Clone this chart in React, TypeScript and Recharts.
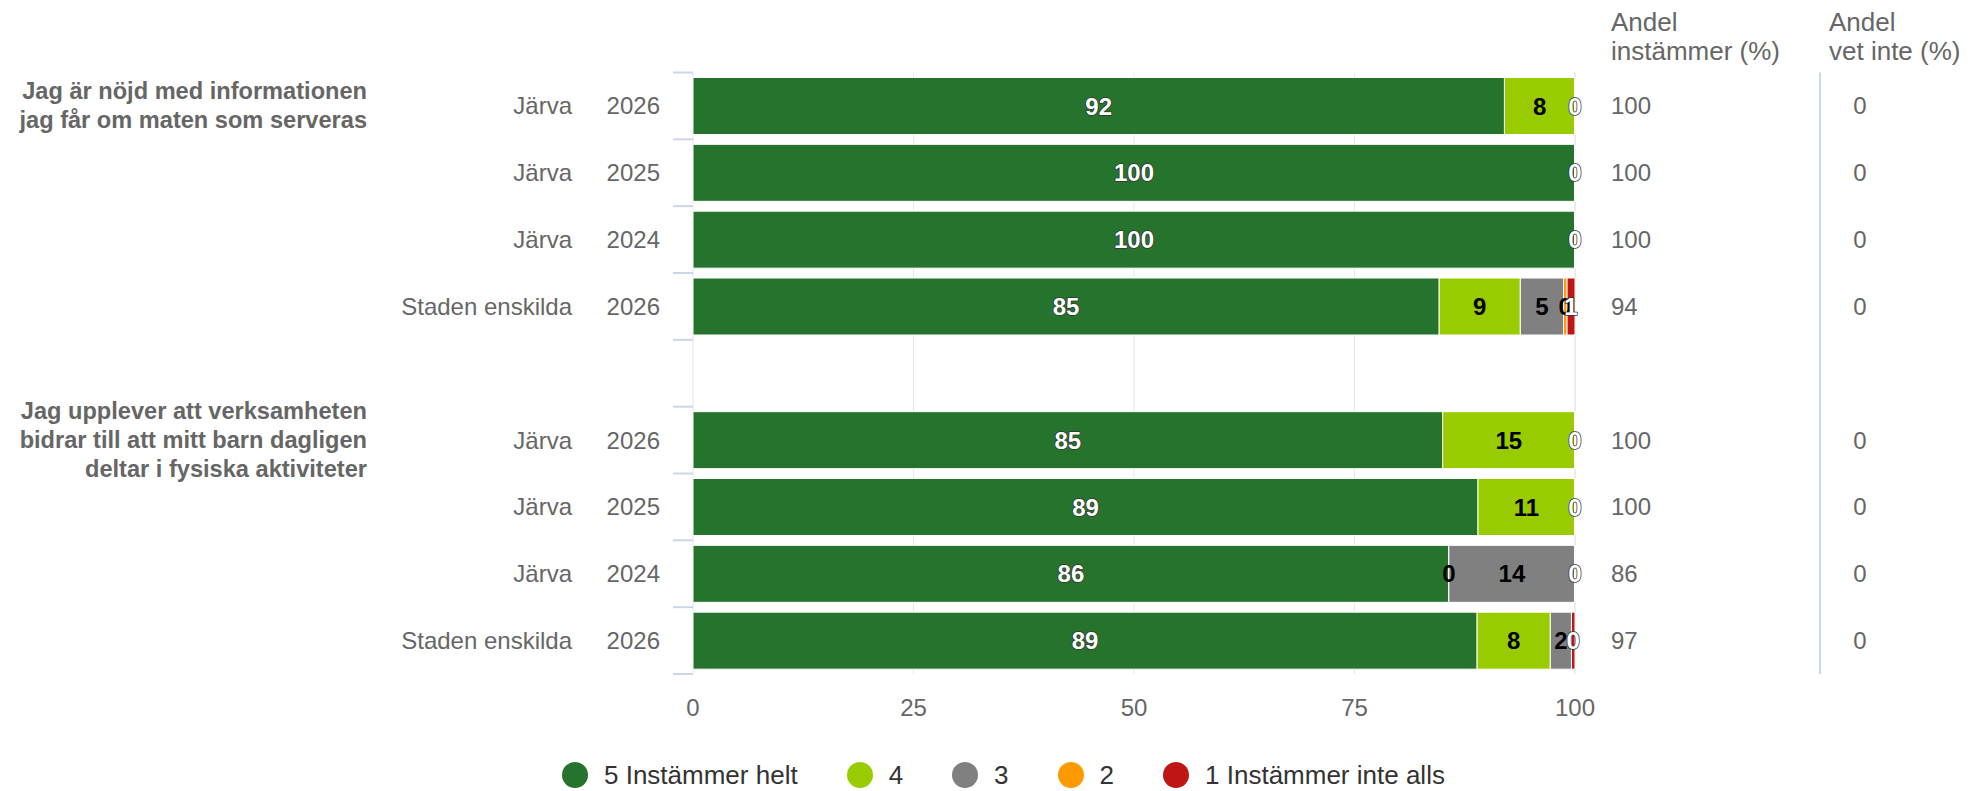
import React from "react";
import {
  BarChart,
  Bar,
  XAxis,
  YAxis,
  CartesianGrid,
  LabelList,
  Legend,
  Customized,
} from "recharts";

// rows of the chart, one empty row separates the two questions
const regions = ["Järva", "Järva", "Järva", "Staden enskilda", "", "Järva", "Järva", "Järva", "Staden enskilda"];
const years = ["2026", "2025", "2024", "2026", "", "2026", "2025", "2024", "2026"];
const questions = [
  ["Jag är nöjd med informationen", "jag får om maten som serveras"],
  ["Jag upplever att verksamheten", "bidrar till att mitt barn dagligen", "deltar i fysiska aktiviteter"],
];
const questionRows = [0, 5];

// shares in percent per answer
const helt = [92, 100, 100, 84.6, null, 85, 89, 85.7, 88.9];
const fyra = [8, 0, 0, 9.2, null, 15, 11, 0, 8.3];
const tre = [0, 0, 0, 4.9, null, 0, 0, 14.3, 2.4];
const tva = [0, 0, 0, 0.4, null, 0, 0, 0, 0];
const ett = [0, 0, 0, 0.9, null, 0, 0, 0, 0.4];
const andelInstammer = [100, 100, 100, 94, null, 100, 100, 86, 97];
const andelVetInte = [0, 0, 0, 0, null, 0, 0, 0, 0];
const xTicks = [0, 25, 50, 75, 100];

const series = [
  { key: "s5", name: "5 Instämmer helt", values: helt, color: "#25732c", text: "#fff" },
  { key: "s4", name: "4", values: fyra, color: "#99cc00", text: "#000" },
  { key: "s3", name: "3", values: tre, color: "#808080", text: "#000" },
  { key: "s2", name: "2", values: tva, color: "#ff9900", text: "#000" },
  { key: "s1", name: "1 Instämmer inte alls", values: ett, color: "#bf1515", text: "#fff" },
];

const data = regions.map((r, i) => {
  const row: any = { key: `r${i}`, region: r, year: years[i] };
  series.forEach((s) => (row[s.key] = s.values[i]));
  return row;
});

const CHART_W = 1956;
const CHART_H = 783;
const PLOT_LEFT = 685;
const PLOT_RIGHT = 1567;
const PLOT_TOP = 64.5;
const PLOT_BOTTOM = 666;
const BAND = (PLOT_BOTTOM - PLOT_TOP) / regions.length;
const LEGEND_Y = 767;
const GRAY = "#666666";
const AXIS_LINE = "#ccd6eb";

function RowTick(props: any) {
  const { y, payload } = props;
  const i = Number(String(payload.value).slice(1));
  const qi = questionRows.indexOf(i);
  const lines = qi >= 0 ? questions[qi] : [];
  return (
    <g>
      <line x1={PLOT_LEFT - 20} x2={PLOT_LEFT} y1={y - BAND / 2} y2={y - BAND / 2} stroke={AXIS_LINE} strokeWidth={2} />
      {i === regions.length - 1 && (
        <line x1={PLOT_LEFT - 20} x2={PLOT_LEFT} y1={y + BAND / 2} y2={y + BAND / 2} stroke={AXIS_LINE} strokeWidth={2} />
      )}
      {lines.map((l, k) => (
        <text
          key={k}
          x={359}
          y={y + (k - (lines.length - 1) / 2) * 29}
          textAnchor="end"
          dominantBaseline="central"
          fontSize={23.6}
          fontWeight="bold"
          fill={GRAY}
        >
          {l}
        </text>
      ))}
      {regions[i] && (
        <>
          <text x={564} y={y} textAnchor="end" dominantBaseline="central" fontSize={24} fill={GRAY}>
            {regions[i]}
          </text>
          <text x={652} y={y} textAnchor="end" dominantBaseline="central" fontSize={24} fill={GRAY}>
            {years[i]}
          </text>
          <text x={1603} y={y} dominantBaseline="central" fontSize={24} fill={GRAY}>
            {andelInstammer[i]}
          </text>
          <text x={1852} y={y} textAnchor="middle" dominantBaseline="central" fontSize={24} fill={GRAY}>
            {andelVetInte[i]}
          </text>
        </>
      )}
    </g>
  );
}

function ValueTick(props: any) {
  const { x, y, payload } = props;
  return (
    <text x={x} y={y + 33} textAnchor="middle" dominantBaseline="central" fontSize={24} fill={GRAY}>
      {payload.value}
    </text>
  );
}

// a zero label is hidden when a later near-zero segment sits at the same place
function isHidden(si: number, row: number) {
  if (series[si].values[row] !== 0) return false;
  let between = 0;
  for (let j = si + 1; j < series.length; j++) {
    const v = series[j].values[row] ?? 0;
    if (between < 0.01 && v < 1) return true;
    between += v;
  }
  return false;
}

const makeLabel = (si: number) => (props: any) => {
  const { x, y, width, height, value } = props;
  if (value == null) return null;
  const cy = Number(y) + Number(height) / 2;
  const row = Math.floor((cy - PLOT_TOP) / BAND);
  if (isHidden(si, row)) return null;
  const white = series[si].text === "#fff";
  return (
    <text
      x={Number(x) + Number(width) / 2}
      y={cy}
      textAnchor="middle"
      dominantBaseline="central"
      fontSize={24}
      fontWeight="bold"
      fill={series[si].text}
      stroke={white ? "#333" : "none"}
      strokeWidth={1.5}
      strokeLinejoin="round"
      style={{ paintOrder: "stroke" }}
    >
      {Math.round(value)}
    </text>
  );
};

function Extras() {
  return (
    <g>
      <text x={1603} y={14} dominantBaseline="central" fontSize={26} fill={GRAY}>Andel</text>
      <text x={1603} y={43} dominantBaseline="central" fontSize={26} fill={GRAY}>instämmer (%)</text>
      <text x={1821} y={14} dominantBaseline="central" fontSize={26} fill={GRAY}>Andel</text>
      <text x={1821} y={43} dominantBaseline="central" fontSize={26} fill={GRAY}>vet inte (%)</text>
      <line x1={1812} x2={1812} y1={PLOT_TOP} y2={PLOT_BOTTOM} stroke={AXIS_LINE} strokeWidth={2} />
    </g>
  );
}

function LegendContent() {
  return (
    <div style={{ display: "flex", alignItems: "center", height: 40, paddingLeft: 554 }}>
      {series.map((s) => (
        <div key={s.key} style={{ display: "flex", alignItems: "center", marginRight: 49 }}>
          <span style={{ width: 26, height: 26, borderRadius: 13, background: s.color, marginRight: 16 }} />
          <span style={{ fontSize: 26, color: "#333" }}>{s.name}</span>
        </div>
      ))}
    </div>
  );
}

// zero shares get a hairline so that the bar still places their label
const zeroSize = (si: number) => (_v: any, index: number) =>
  series[si].values[index] === 0 ? 0.05 : 0;

export default function App() {
  return (
    <div style={{ width: CHART_W, height: CHART_H, fontFamily: "'Liberation Sans', Arial, sans-serif" }}>
      <style>{"body{overflow:hidden}"}</style>
      <BarChart
        width={CHART_W}
        height={CHART_H}
        data={data}
        layout="vertical"
        margin={{ top: PLOT_TOP, right: CHART_W - PLOT_RIGHT, bottom: 17, left: 0 }}
        barCategoryGap={5}
      >
        <CartesianGrid horizontal={false} stroke="#e6e6e6" />
        <XAxis
          type="number"
          domain={[0, 100]}
          ticks={xTicks}
          interval={0}
          axisLine={false}
          tickLine={false}
          tickSize={0}
          tickMargin={0}
          height={60}
          tick={<ValueTick />}
        />
        <YAxis
          type="category"
          dataKey="key"
          width={PLOT_LEFT}
          interval={0}
          axisLine={false}
          tickLine={false}
          tick={<RowTick />}
        />
        {series.map((s, si) => (
          <Bar
            key={s.key}
            dataKey={s.key}
            name={s.name}
            stackId="a"
            fill={s.color}
            stroke="#fff"
            strokeWidth={1}
            minPointSize={zeroSize(si)}
            isAnimationActive={false}
          >
            <LabelList dataKey={s.key} content={makeLabel(si)} />
          </Bar>
        ))}
        <Legend
          verticalAlign="bottom"
          height={40}
          content={<LegendContent />}
          wrapperStyle={{ top: LEGEND_Y - 20, bottom: "auto", left: 0, width: CHART_W }}
        />
        <Customized component={<Extras />} />
      </BarChart>
    </div>
  );
}
